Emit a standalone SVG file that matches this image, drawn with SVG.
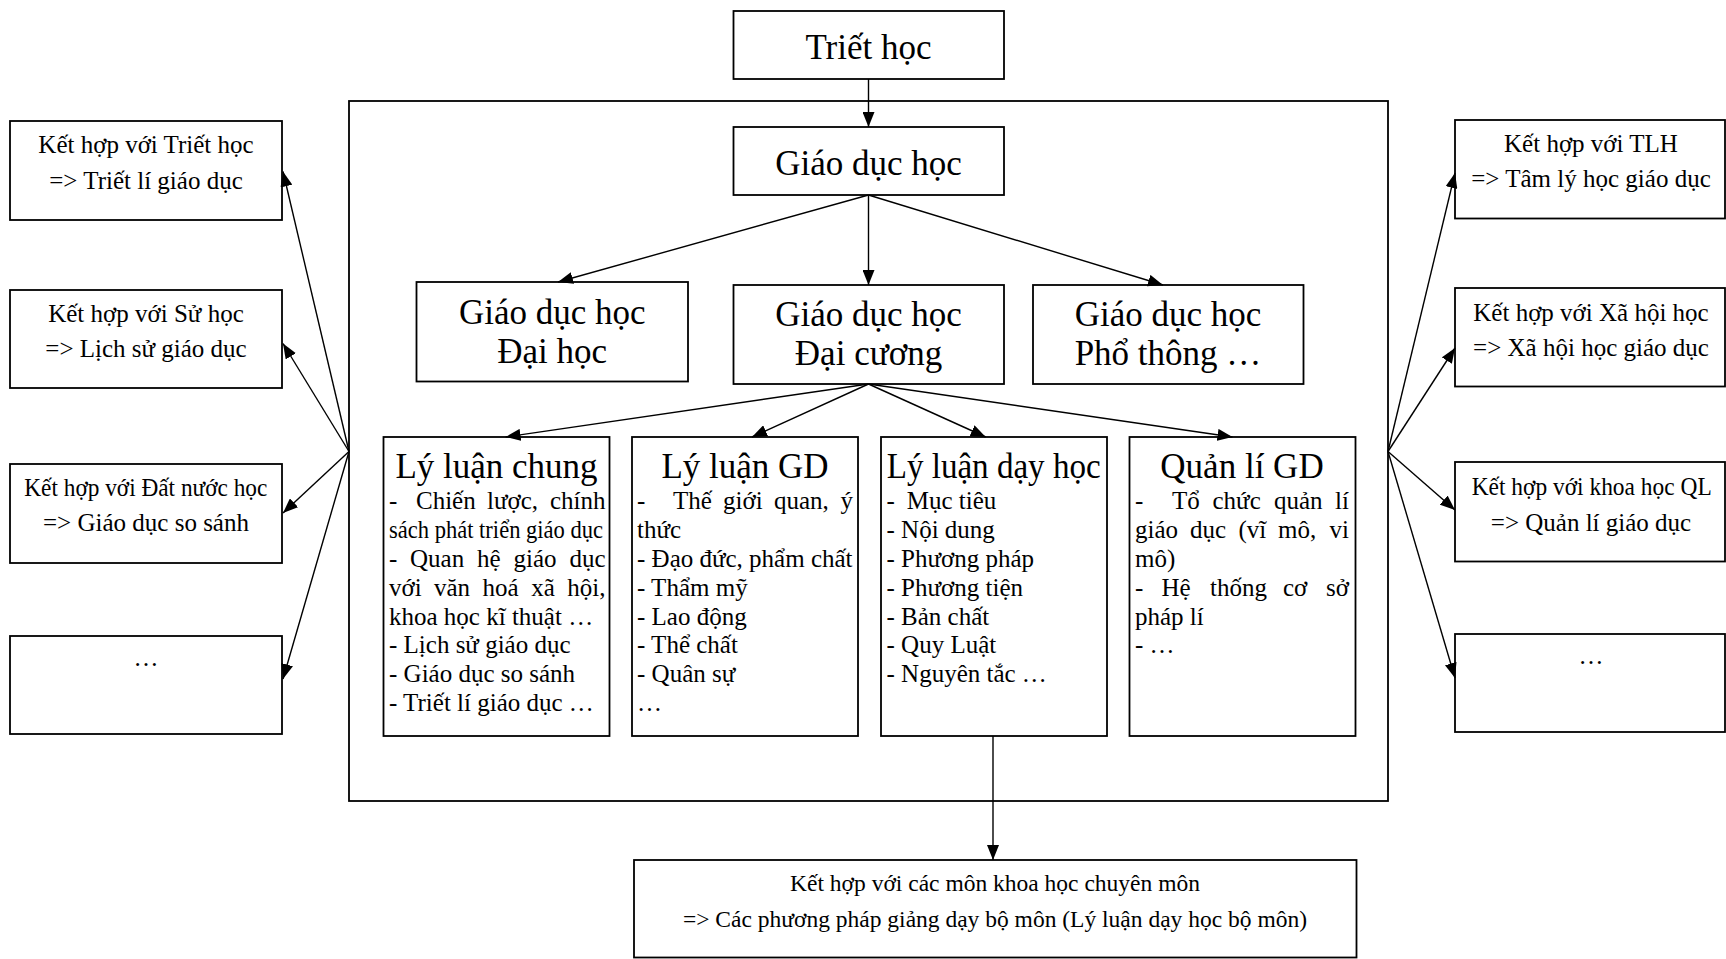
<svg xmlns="http://www.w3.org/2000/svg" width="1726" height="959" viewBox="0 0 1726 959">
<style>
.box{fill:#fff;stroke:#000;stroke-width:1.8}
.frame{fill:none;stroke:#000;stroke-width:1.8}
.t{font-family:"Liberation Serif","Times New Roman",serif;fill:#000}
.big{font-size:35px}
.mid{font-size:25px}
.sm{font-size:23.5px}
.c{text-anchor:middle}
.e{text-anchor:end}
.ln{stroke:#000;stroke-width:1.4;fill:none;marker-end:url(#ah)}
</style>
<defs>
<marker id="ah" markerWidth="15" markerHeight="12" refX="15" refY="6" orient="auto" markerUnits="userSpaceOnUse">
<path d="M0,0 L15,6 L0,12 z" fill="#000"/>
</marker>
</defs>
<rect width="1726" height="959" fill="#fff"/>

<g id="container"><rect class="frame" x="349" y="101" width="1039" height="700"/></g>

<g id="triet-hoc"><rect class="box" x="733.5" y="11" width="270.5" height="68"/>
<text class="t big c" x="868.5" y="59">Triết học</text></g>

<g id="giao-duc-hoc"><rect class="box" x="733.5" y="127" width="270.5" height="68"/>
<text class="t big c" x="868.5" y="175">Giáo dục học</text></g>

<g id="gdh-dai-hoc"><rect class="box" x="416.5" y="282" width="271.5" height="99.5"/>
<text class="t big c" x="552.2" y="323.5">Giáo dục học</text>
<text class="t big c" x="552.2" y="362.5">Đại học</text></g>

<g id="gdh-dai-cuong"><rect class="box" x="733.5" y="285" width="270.5" height="99"/>
<text class="t big c" x="868.5" y="325.5">Giáo dục học</text>
<text class="t big c" x="868.5" y="364.5">Đại cương</text></g>

<g id="gdh-pho-thong"><rect class="box" x="1033" y="285" width="270.5" height="99"/>
<text class="t big c" x="1168" y="325.5">Giáo dục học</text>
<text class="t big c" x="1168" y="364.5">Phổ thông …</text></g>

<g id="ly-luan-chung"><rect class="box" x="383.5" y="437" width="226" height="299"/>
<text class="t big c" x="496.5" y="478">Lý luận chung</text>
<text class="t mid" y="509.3"><tspan x="389">-</tspan> <tspan x="416">Chiến</tspan> <tspan x="487">lược,</tspan> <tspan x="605.5" class="e">chính</tspan></text>
<text class="t mid" x="389" y="538.1" textLength="214" lengthAdjust="spacingAndGlyphs">sách phát triển giáo dục</text>
<text class="t mid" y="566.9"><tspan x="389">-</tspan> <tspan x="410">Quan</tspan> <tspan x="477">hệ</tspan> <tspan x="513.5">giáo</tspan> <tspan x="605.5" class="e">dục</tspan></text>
<text class="t mid" y="595.7"><tspan x="389">với</tspan> <tspan x="434">văn</tspan> <tspan x="482.6">hoá</tspan> <tspan x="531.2">xã</tspan> <tspan x="605.5" class="e">hội,</tspan></text>
<text class="t mid" x="389" y="624.5">khoa học kĩ thuật …</text>
<text class="t mid" x="389" y="653.3">- Lịch sử giáo dục</text>
<text class="t mid" x="389" y="682.1">- Giáo dục so sánh</text>
<text class="t mid" x="389" y="710.9">- Triết lí giáo dục …</text></g>

<g id="ly-luan-gd"><rect class="box" x="632" y="437" width="226" height="299"/>
<text class="t big c" x="745" y="478">Lý luận GD</text>
<text class="t mid" y="509.3"><tspan x="637">-</tspan> <tspan x="673">Thế</tspan> <tspan x="723">giới</tspan> <tspan x="774">quan,</tspan> <tspan x="853" class="e">ý</tspan></text>
<text class="t mid" x="637" y="538.1">thức</text>
<text class="t mid" x="637" y="566.9">- Đạo đức, phẩm chất</text>
<text class="t mid" x="637" y="595.7">- Thẩm mỹ</text>
<text class="t mid" x="637" y="624.5">- Lao động</text>
<text class="t mid" x="637" y="653.3">- Thể chất</text>
<text class="t mid" x="637" y="682.1">- Quân sự</text>
<text class="t mid" x="637" y="710.9">…</text></g>

<g id="ly-luan-day-hoc"><rect class="box" x="881" y="437" width="226" height="299"/>
<text class="t big" x="886.7" y="478" textLength="214" lengthAdjust="spacingAndGlyphs">Lý luận dạy học</text>
<text class="t mid" y="509.3"><tspan x="886.5">-</tspan> <tspan x="906.7">Mục tiêu</tspan></text>
<text class="t mid" x="886.5" y="538.1">- Nội dung</text>
<text class="t mid" x="886.5" y="566.9">- Phương pháp</text>
<text class="t mid" x="886.5" y="595.7">- Phương tiện</text>
<text class="t mid" x="886.5" y="624.5">- Bản chất</text>
<text class="t mid" x="886.5" y="653.3">- Quy Luật</text>
<text class="t mid" x="886.5" y="682.1">- Nguyên tắc …</text></g>

<g id="quan-li-gd"><rect class="box" x="1129.5" y="437" width="226" height="299"/>
<text class="t big c" x="1242" y="478">Quản lí GD</text>
<text class="t mid" y="509.3"><tspan x="1135">-</tspan> <tspan x="1172">Tổ</tspan> <tspan x="1212.5">chức</tspan> <tspan x="1274">quản</tspan> <tspan x="1349" class="e">lí</tspan></text>
<text class="t mid" y="538.1"><tspan x="1135">giáo</tspan> <tspan x="1190">dục</tspan> <tspan x="1238.5">(vĩ</tspan> <tspan x="1278">mô,</tspan> <tspan x="1349" class="e">vi</tspan></text>
<text class="t mid" x="1135" y="566.9">mô)</text>
<text class="t mid" y="595.7"><tspan x="1135">-</tspan> <tspan x="1161.5">Hệ</tspan> <tspan x="1210">thống</tspan> <tspan x="1283">cơ</tspan> <tspan x="1349" class="e">sở</tspan></text>
<text class="t mid" x="1135" y="624.5">pháp lí</text>
<text class="t mid" x="1135" y="653.3">- …</text></g>

<g id="left-triet-hoc"><rect class="box" x="10" y="121" width="272" height="99"/>
<text class="t mid c" x="146" y="153">Kết hợp với Triết học</text>
<text class="t mid c" x="146" y="188.5">=&gt; Triết lí giáo dục</text></g>

<g id="left-su-hoc"><rect class="box" x="10" y="290" width="272" height="98"/>
<text class="t mid c" x="146" y="322">Kết hợp với Sử học</text>
<text class="t mid c" x="146" y="357">=&gt; Lịch sử giáo dục</text></g>

<g id="left-dat-nuoc-hoc"><rect class="box" x="10" y="464" width="272" height="99"/>
<text class="t mid" x="24.3" y="496" textLength="243" lengthAdjust="spacingAndGlyphs">Kết hợp với Đất nước học</text>
<text class="t mid c" x="146" y="531">=&gt; Giáo dục so sánh</text></g>

<g id="left-more"><rect class="box" x="10" y="636" width="272" height="98"/>
<text class="t mid c" x="146" y="666">…</text></g>

<g id="right-tlh"><rect class="box" x="1455" y="120" width="270" height="98.5"/>
<text class="t mid c" x="1591" y="152">Kết hợp với TLH</text>
<text class="t mid c" x="1591" y="187">=&gt; Tâm lý học giáo dục</text></g>

<g id="right-xa-hoi-hoc"><rect class="box" x="1455" y="288" width="270" height="98.5"/>
<text class="t mid c" x="1591" y="321">Kết hợp với Xã hội học</text>
<text class="t mid c" x="1591" y="356">=&gt; Xã hội học giáo dục</text></g>

<g id="right-khoa-hoc-ql"><rect class="box" x="1455" y="462" width="270" height="99.5"/>
<text class="t mid" x="1471.7" y="495" textLength="240" lengthAdjust="spacingAndGlyphs">Kết hợp với khoa học QL</text>
<text class="t mid c" x="1591" y="531">=&gt; Quản lí giáo dục</text></g>

<g id="right-more"><rect class="box" x="1455" y="634" width="270" height="98"/>
<text class="t mid c" x="1591" y="664">…</text></g>

<g id="bo-mon"><rect class="box" x="634" y="860" width="722.5" height="97.5"/>
<text class="t sm c" x="995" y="891">Kết hợp với các môn khoa học chuyên môn</text>
<text class="t sm c" x="995" y="927">=&gt; Các phương pháp giảng dạy bộ môn (Lý luận dạy học bộ môn)</text></g>

<g id="connectors">
<line class="ln" x1="868.5" y1="79" x2="868.5" y2="127"/>
<line class="ln" x1="868.5" y1="195" x2="558" y2="282"/>
<line class="ln" x1="868.5" y1="195" x2="868.5" y2="285"/>
<line class="ln" x1="868.5" y1="195" x2="1163" y2="285"/>
<line class="ln" x1="868.5" y1="384" x2="505.6" y2="437"/>
<line class="ln" x1="868.5" y1="384" x2="752" y2="437"/>
<line class="ln" x1="868.5" y1="384" x2="985.7" y2="437"/>
<line class="ln" x1="868.5" y1="384" x2="1232.5" y2="437"/>
<line class="ln" x1="993" y1="736" x2="993" y2="860"/>
<line class="ln" x1="349" y1="451.5" x2="283" y2="171.5"/>
<line class="ln" x1="349" y1="451.5" x2="283" y2="343.5"/>
<line class="ln" x1="349" y1="451.5" x2="283" y2="513"/>
<line class="ln" x1="349" y1="451.5" x2="283" y2="679"/>
<line class="ln" x1="1388" y1="451.5" x2="1455" y2="173"/>
<line class="ln" x1="1388" y1="451.5" x2="1455" y2="348"/>
<line class="ln" x1="1388" y1="451.5" x2="1455" y2="510"/>
<line class="ln" x1="1388" y1="451.5" x2="1455" y2="678"/>
</g>
</svg>
